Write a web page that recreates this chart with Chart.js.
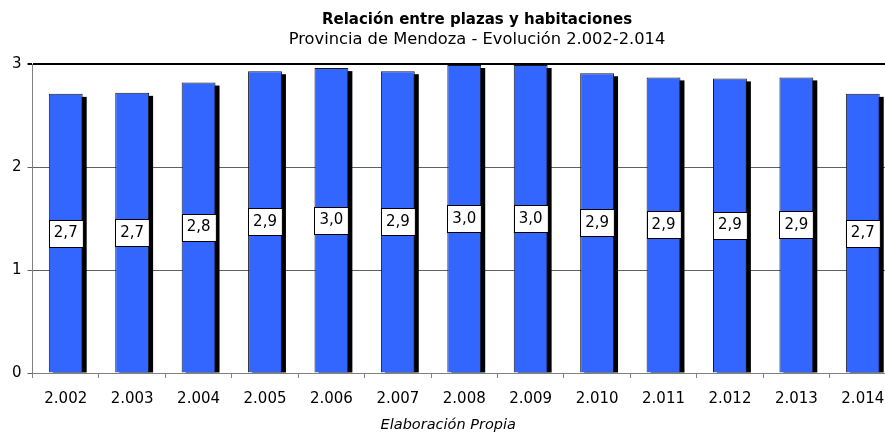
<!DOCTYPE html>
<html lang="es">
<head>
<meta charset="UTF-8">
<title>Relación entre plazas y habitaciones</title>
<script src="https://cdn.jsdelivr.net/npm/chart.js"></script>
<style>
    html, body { margin: 0; padding: 0; background: #fff; overflow: hidden; }
    #wrap { width: 954px; height: 435px; position: relative; }
</style>
</head>
<body>
<div id="wrap"><canvas id="chart"></canvas></div>
<script>
    // datos
    const years = ['2.002', '2.003', '2.004', '2.005', '2.006', '2.007', '2.008',
        '2.009', '2.010', '2.011', '2.012', '2.013', '2.014'];
    const ratio = [2.71, 2.72, 2.82, 2.93, 2.96, 2.93, 2.99, 2.99, 2.91, 2.87, 2.86, 2.87, 2.71];
    const yTicks = [0, 1, 2, 3];

    const titleText = 'Relación entre plazas y habitaciones';
    const subtitleText = 'Provincia de Mendoza - Evolución 2.002-2.014';
    const footText = 'Elaboración Propia';

    const FONT = 'DejaVu Sans, Verdana, sans-serif';

    // sombra negra detras de cada barra
    const shadowPlugin = {
        id: 'shadow',
        beforeDatasetsDraw(chart) {
            const ctx = chart.ctx;
            const area = chart.chartArea;
            ctx.save();
            ctx.beginPath();
            ctx.rect(area.left, area.top - 5, area.right - area.left + 10, area.bottom - area.top + 5);
            ctx.clip();
            ctx.fillStyle = '#000';
            chart.getDatasetMeta(0).data.forEach(bar => {
                const w = bar.width;
                ctx.fillRect(bar.x - w / 2 + 4, bar.y + 3, w, bar.base - bar.y - 3);
            });
            ctx.restore();
        }
    };

    // etiquetas con caja blanca en el centro de la barra
    const labelPlugin = {
        id: 'boxLabels',
        afterDatasetsDraw(chart) {
            const ctx = chart.ctx;
            ctx.save();
            ctx.font = '15px ' + FONT;
            ctx.textAlign = 'center';
            ctx.textBaseline = 'middle';
            chart.getDatasetMeta(0).data.forEach((bar, i) => {
                const txt = ratio[i].toFixed(1).replace('.', ',');
                const w = bar.width;
                const h = 27;
                const cy = (bar.y + bar.base) / 2;
                const x0 = Math.round(bar.x - w / 2) + 0.5;
                const y0 = Math.round(cy - h / 2) + 0.5;
                ctx.fillStyle = '#fff';
                ctx.fillRect(x0, y0, w, h);
                ctx.strokeStyle = '#000';
                ctx.lineWidth = 1;
                ctx.strokeRect(x0, y0, w, h);
                ctx.fillStyle = '#000';
                ctx.fillText(txt, bar.x, cy);
            });
            ctx.restore();
        }
    };

    // titulos y pie (centrados sobre el lienzo completo)
    const textPlugin = {
        id: 'texts',
        afterDraw(chart) {
            const ctx = chart.ctx;
            const area = chart.chartArea;
            const cx = chart.width / 2;
            ctx.save();
            ctx.fillStyle = '#000';
            ctx.textAlign = 'center';
            ctx.textBaseline = 'middle';
            ctx.font = 'bold 15px ' + FONT;
            ctx.fillText(titleText, cx, 20);
            ctx.font = '16.3px ' + FONT;
            ctx.fillText(subtitleText, cx, 40);
            ctx.font = 'italic 14.5px ' + FONT;
            ctx.fillText(footText, (area.left + area.right) / 2 - 16, 425);
            ctx.restore();
        }
    };

    new Chart(document.getElementById('chart'), {
        type: 'bar',
        data: {
            labels: years,
            datasets: [{
                data: ratio,
                backgroundColor: '#3366ff',
                borderColor: '#1a1a1a',
                borderWidth: 1,
                borderSkipped: 'bottom',
                categoryPercentage: 1,
                barPercentage: 0.51
            }]
        },
        options: {
            responsive: true,
            maintainAspectRatio: false,
            animation: false,
            layout: { padding: { left: 6, right: 58, top: 64, bottom: 15 } },
            plugins: {
                legend: { display: false },
                tooltip: { enabled: false },
                title: { display: false }
            },
            scales: {
                x: {
                    grid: {
                        offset: true,
                        drawOnChartArea: false,
                        drawTicks: true,
                        tickLength: 5,
                        color: '#808080'
                    },
                    border: { color: '#808080', width: 1 },
                    ticks: {
                        color: '#000',
                        font: { family: FONT, size: 15 },
                        padding: 12,
                        maxRotation: 0
                    }
                },
                y: {
                    min: 0,
                    max: 3,
                    afterBuildTicks(scale) {
                        scale.ticks = yTicks.map(v => ({ value: v }));
                    },
                    grid: {
                        color: ctx => ctx.tick && ctx.tick.value === 3 ? '#000' : '#606060',
                        lineWidth: ctx => ctx.tick && ctx.tick.value === 3 ? 2 : 1,
                        tickLength: 5
                    },
                    border: { color: '#808080', width: 1 },
                    ticks: {
                        color: '#000',
                        font: { family: FONT, size: 15 },
                        padding: 6
                    }
                }
            }
        },
        plugins: [shadowPlugin, labelPlugin, textPlugin]
    });
</script>
</body>
</html>
